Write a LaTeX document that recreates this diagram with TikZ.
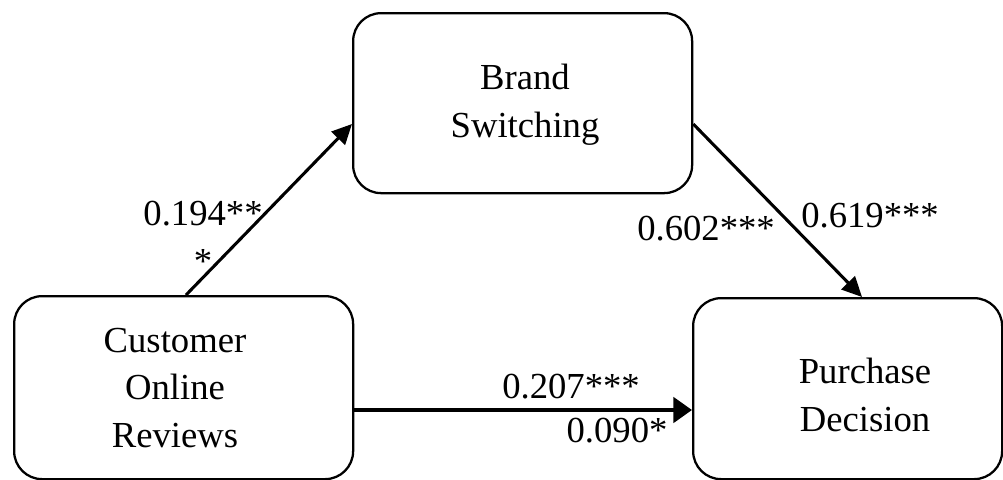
\documentclass[tikz,border=0pt]{standalone}
\usepackage{fontspec}
\setmainfont{Liberation Serif}
\usetikzlibrary{arrows.meta}

\tikzset{
  construct/.style={draw=black, line width=1.7pt, rounded corners=21pt,
    inner sep=0pt, anchor=north west},
  boxtext/.style={anchor=base, align=center, inner sep=0pt,
    font=\fontsize{27.5}{35.6}\selectfont},
  coef/.style={anchor=base, inner sep=0pt,
    font=\fontsize{27.5}{35.6}\selectfont},
  path/.style={line width=2.3pt, -{Triangle[length=15pt,width=14pt]}},
  direct/.style={line width=3pt, -{Triangle[length=14pt,width=19pt]}}
}

\begin{document}
\begin{tikzpicture}[x=0.75pt, y=-0.75pt]
  \useasboundingbox (0,0) rectangle (1003,479);
  \fill[white] (0,0) rectangle (1003,479);

  % the three constructs
  \node[construct, minimum width=254.25pt, minimum height=135pt] (bs) at (352,12) {};
  \node[construct, minimum width=254.25pt, minimum height=137.25pt] (cor) at (13,295) {};
  \node[construct, minimum width=231.75pt, minimum height=135.75pt] (pd) at (692,297) {};

  % labels (anchored at the baseline of their last line)
  \node[boxtext] (bs-label) at (525,137) {Brand\\Switching};
  \node[boxtext] (cor-label) at (175,447) {Customer\\Online\\Reviews};
  \node[boxtext] (pd-label) at (865,431) {Purchase\\Decision};

  % structural paths
  \draw[path] (cor.north -| 186,0) -- (bs.west |- 0,124);
  \draw[path] (bs.east |- 0,124) -- (pd.north -| 862,0);
  \draw[direct] (cor.east |- 0,410) -- (pd.west |- 0,410);

  % path coefficients
  \node[coef, align=center] (c-cor-bs) at (203,273) {0.194**\\*};
  \node[coef] (c-bs-pd-a) at (706,240) {0.602***};
  \node[coef] (c-bs-pd-b) at (870,227) {0.619***};
  \node[coef] (c-cor-pd-a) at (571,398) {0.207***};
  \node[coef] (c-cor-pd-b) at (617,442) {0.090*};
\end{tikzpicture}
\end{document}
